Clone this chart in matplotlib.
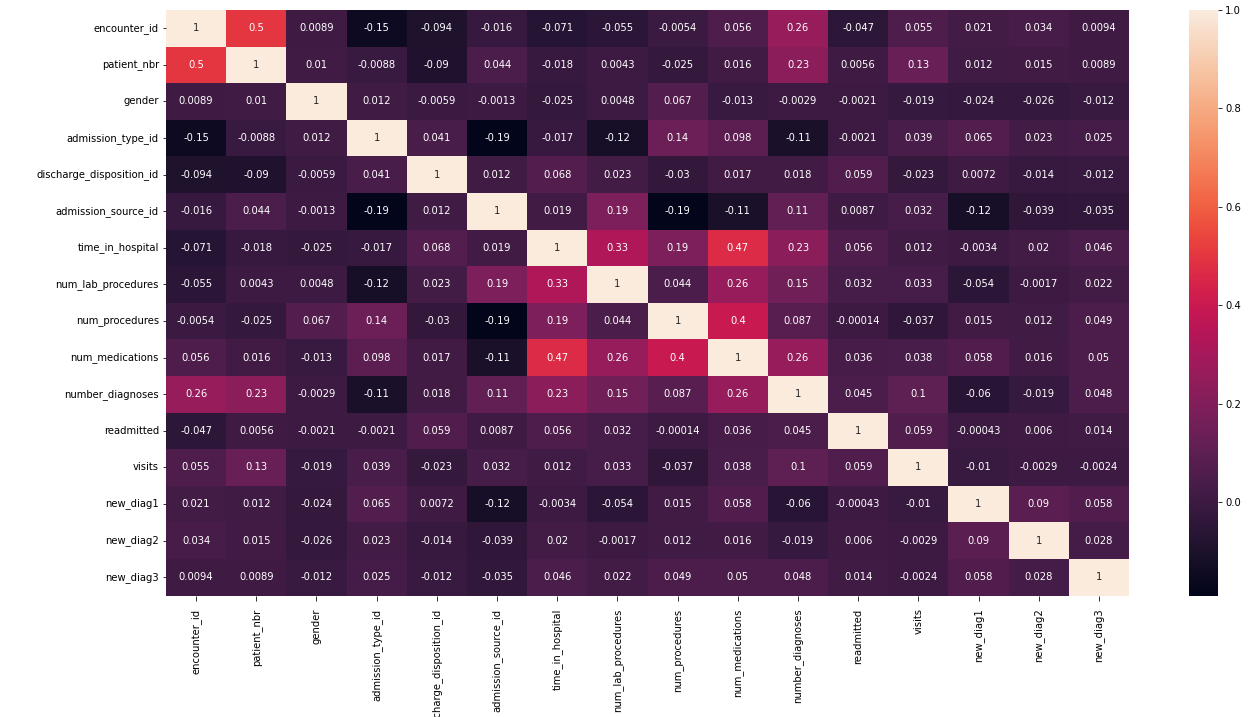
import matplotlib
matplotlib.use("Agg")
import matplotlib.pyplot as plt
import numpy as np
import pandas as pd
import seaborn as sns

labels = ["encounter_id", "patient_nbr", "gender", "admission_type_id",
          "discharge_disposition_id", "admission_source_id", "time_in_hospital",
          "num_lab_procedures", "num_procedures", "num_medications",
          "number_diagnoses", "readmitted", "visits", "new_diag1", "new_diag2",
          "new_diag3"]

corr_rows = [
    [1, 0.5, 0.0089, -0.15, -0.094, -0.016, -0.071, -0.055, -0.0054, 0.056, 0.26, -0.047, 0.055, 0.021, 0.034, 0.0094],
    [0.5, 1, 0.01, -0.0088, -0.09, 0.044, -0.018, 0.0043, -0.025, 0.016, 0.23, 0.0056, 0.13, 0.012, 0.015, 0.0089],
    [0.0089, 0.01, 1, 0.012, -0.0059, -0.0013, -0.025, 0.0048, 0.067, -0.013, -0.0029, -0.0021, -0.019, -0.024, -0.026, -0.012],
    [-0.15, -0.0088, 0.012, 1, 0.041, -0.19, -0.017, -0.12, 0.14, 0.098, -0.11, -0.0021, 0.039, 0.065, 0.023, 0.025],
    [-0.094, -0.09, -0.0059, 0.041, 1, 0.012, 0.068, 0.023, -0.03, 0.017, 0.018, 0.059, -0.023, 0.0072, -0.014, -0.012],
    [-0.016, 0.044, -0.0013, -0.19, 0.012, 1, 0.019, 0.19, -0.19, -0.11, 0.11, 0.0087, 0.032, -0.12, -0.039, -0.035],
    [-0.071, -0.018, -0.025, -0.017, 0.068, 0.019, 1, 0.33, 0.19, 0.47, 0.23, 0.056, 0.012, -0.0034, 0.02, 0.046],
    [-0.055, 0.0043, 0.0048, -0.12, 0.023, 0.19, 0.33, 1, 0.044, 0.26, 0.15, 0.032, 0.033, -0.054, -0.0017, 0.022],
    [-0.0054, -0.025, 0.067, 0.14, -0.03, -0.19, 0.19, 0.044, 1, 0.4, 0.087, -0.00014, -0.037, 0.015, 0.012, 0.049],
    [0.056, 0.016, -0.013, 0.098, 0.017, -0.11, 0.47, 0.26, 0.4, 1, 0.26, 0.036, 0.038, 0.058, 0.016, 0.05],
    [0.26, 0.23, -0.0029, -0.11, 0.018, 0.11, 0.23, 0.15, 0.087, 0.26, 1, 0.045, 0.1, -0.06, -0.019, 0.048],
    [-0.047, 0.0056, -0.0021, -0.0021, 0.059, 0.0087, 0.056, 0.032, -0.00014, 0.036, 0.045, 1, 0.059, -0.00043, 0.006, 0.014],
    [0.055, 0.13, -0.019, 0.039, -0.023, 0.032, 0.012, 0.033, -0.037, 0.038, 0.1, 0.059, 1, -0.01, -0.0029, -0.0024],
    [0.021, 0.012, -0.024, 0.065, 0.0072, -0.12, -0.0034, -0.054, 0.015, 0.058, -0.06, -0.00043, -0.01, 1, 0.09, 0.058],
    [0.034, 0.015, -0.026, 0.023, -0.014, -0.039, 0.02, -0.0017, 0.012, 0.016, -0.019, 0.006, -0.0029, 0.09, 1, 0.028],
    [0.0094, 0.0089, -0.012, 0.025, -0.012, -0.035, 0.046, 0.022, 0.049, 0.05, 0.048, 0.014, -0.0024, 0.058, 0.028, 1],
]

corr = pd.DataFrame(np.array(corr_rows, dtype=float), index=labels, columns=labels)

plt.rcParams['font.family'] = ['DejaVu Sans']
plt.rcParams['font.size'] = 10

fig = plt.figure(figsize=(1254 / 72, 717 / 72), dpi=72)
ax = fig.add_axes([166 / 1254, 1 - 595.5 / 717, 963 / 1254, 585.5 / 717])
cax = fig.add_axes([1189 / 1254, 1 - 595.5 / 717, 29 / 1254, 585.5 / 717])

sns.heatmap(corr, annot=True, ax=ax, cbar_ax=cax, cmap="rocket",
            vmin=corr.values.min(), vmax=1.0)

ax.set_xticklabels(labels, rotation=90)
ax.set_yticklabels(labels, rotation=0)
ax.tick_params(axis='x', length=5, pad=8)
cax.set_yticks([0.0, 0.2, 0.4, 0.6, 0.8, 1.0])
cax.set_yticklabels(["0.0", "0.2", "0.4", "0.6", "0.8", "1.0"])

fig.savefig("out.png", dpi=72)
